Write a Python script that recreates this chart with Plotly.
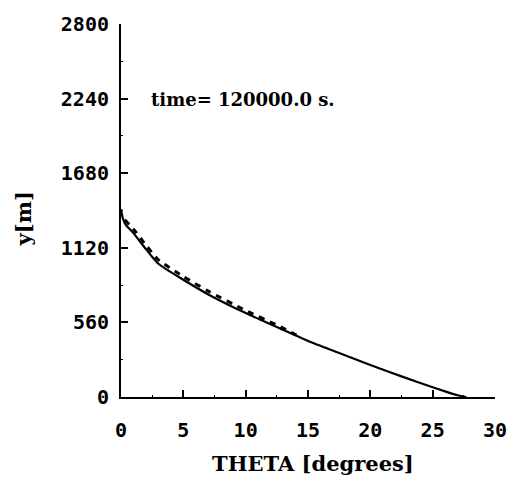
import plotly.graph_objects as go

theta_solid = [0.0, 0.15, 0.4, 1.0, 2.0, 3.0, 5.0, 7.0, 10.0, 12.5, 15.0, 17.5, 20.0, 22.5, 25.0, 26.0, 27.0, 27.7]
y_solid = [1410, 1340, 1290, 1230, 1110, 1000, 880, 770, 630, 525, 420, 330, 240, 155, 73, 42, 13, 0]

theta_dash = [0.3, 1.0, 2.0, 3.0, 5.0, 7.0, 10.0, 12.5, 14.5]
y_dash = [1330, 1260, 1140, 1030, 905, 795, 650, 540, 445]

x_ticks = [0, 5, 10, 15, 20, 25, 30]
y_ticks = [0, 560, 1120, 1680, 2240, 2800]

fig = go.Figure()
fig.add_trace(go.Scatter(x=theta_solid, y=y_solid, mode="lines",
                         line=dict(color="black", width=2.2, shape="spline", smoothing=0.6),
                         showlegend=False))
fig.add_trace(go.Scatter(x=theta_dash, y=y_dash, mode="lines",
                         line=dict(color="black", width=3, dash="6px,6px", shape="spline", smoothing=0.6),
                         showlegend=False))

tickfont = dict(family="DejaVu Sans Mono", size=20, color="black", weight="bold")
fig.update_layout(
    width=519, height=487,
    margin=dict(l=121, r=14, t=16, b=90),
    paper_bgcolor="white", plot_bgcolor="white",
    xaxis=dict(range=[0, 30], tickvals=x_ticks, ticks="inside", ticklen=7, tickwidth=2,
               tickcolor="black", showline=True, linecolor="black", linewidth=2,
               showgrid=False, zeroline=False, tickfont=tickfont, ticklabelstandoff=14,
               minor=dict(dtick=2.5, ticks="inside", ticklen=2, tickcolor="black", tickwidth=1)),
    yaxis=dict(range=[0, 2800], tickvals=y_ticks, ticks="inside", ticklen=7, tickwidth=2,
               tickcolor="black", showline=True, linecolor="black", linewidth=2,
               showgrid=False, zeroline=False, tickfont=tickfont, ticklabelstandoff=6,
               minor=dict(dtick=280, ticks="inside", ticklen=2, tickcolor="black", tickwidth=1)),
    annotations=[
        dict(text="time= 120000.0 s.", x=9.8, y=2230, xref="x", yref="y",
             xanchor="center", yanchor="middle",
             showarrow=False, font=dict(family="DejaVu Serif", size=18, color="black", weight="bold")),
        dict(text="THETA [degrees]", x=0.513, y=-0.178, xref="paper", yref="paper",
             xanchor="center", yanchor="middle",
             showarrow=False, font=dict(family="DejaVu Serif", size=21, color="black", weight="bold")),
        dict(text="y[m]", x=-0.26, y=0.478, xref="paper", yref="paper", textangle=-90,
             xanchor="center", yanchor="middle",
             showarrow=False, font=dict(family="DejaVu Serif", size=21, color="black", weight="bold")),
    ],
)
fig.write_html("out.html")
